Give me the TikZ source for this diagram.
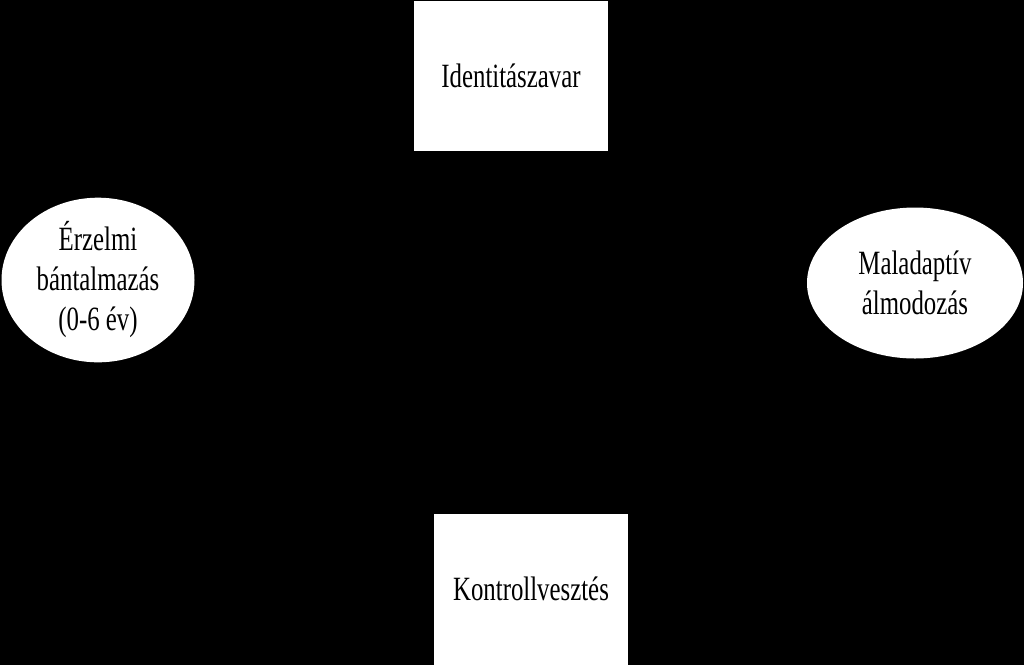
\documentclass[tikz,border=0pt]{standalone}
\usepackage{fontspec}
\setmainfont{Liberation Serif}[FakeStretch=0.73]
\usetikzlibrary{shapes.geometric}
\newcommand{\boxw}{194pt}
\newcommand{\boxh}{150pt}
\begin{document}
\begin{tikzpicture}[
      x=1pt, y=-1pt, %pixel units, y going down
      box/.style={rectangle, fill=white, minimum width=\boxw, minimum height=\boxh, inner sep=0pt},
      oval/.style={ellipse, fill=white, inner sep=0pt, align=center},
      label/.style={font=\fontsize{34}{40}\selectfont, text=black}
    ]
    % Background
    \fill[black] (0,0) rectangle (1024,665);
    \useasboundingbox (0,0) rectangle (1024,665);
    % Draw the boxes
    \node[box, label] (ident) at (511,76) {Identitászavar};
    \node[box, label, minimum height=151pt] (kontroll) at (531,589) {Kontrollvesztés};
    % Draw the ellipses
    \node[oval, label, minimum width=193pt, minimum height=150pt] (abuse) at (98,280) {Érzelmi\\bántalmazás\\(0-6 év)};
    \node[oval, label, minimum width=216pt, minimum height=151pt] (dream) at (915,283) {Maladaptív\\álmodozás};
\end{tikzpicture}
\end{document}
